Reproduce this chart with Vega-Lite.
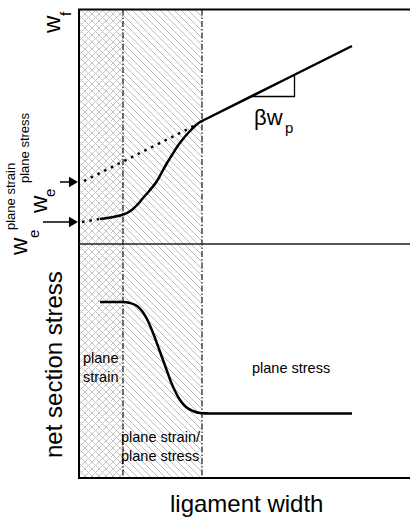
{
"$schema": "https://vega.github.io/schema/vega-lite/v6.json",
"width": 410, "height": 517,
"autosize": {"type": "none"},
"padding": 0,
"background": "white",
"config": {"view": {"stroke": null}, "font": "Liberation Sans"},
"datasets": {
"hatchA": [
{"x":123,"y":-69,"x2":202,"y2":10},{"x":123,"y":-62,"x2":202,"y2":17},{"x":123,"y":-55,"x2":202,"y2":24},{"x":123,"y":-48,"x2":202,"y2":31},{"x":123,"y":-41,"x2":202,"y2":38},{"x":123,"y":-34,"x2":202,"y2":45},{"x":123,"y":-27,"x2":202,"y2":52},{"x":123,"y":-20,"x2":202,"y2":59},{"x":123,"y":-13,"x2":202,"y2":66},{"x":123,"y":-6,"x2":202,"y2":73},
{"x":123,"y":1,"x2":202,"y2":80},{"x":123,"y":8,"x2":202,"y2":87},{"x":123,"y":15,"x2":202,"y2":94},{"x":123,"y":22,"x2":202,"y2":101},{"x":123,"y":29,"x2":202,"y2":108},{"x":123,"y":36,"x2":202,"y2":115},{"x":123,"y":43,"x2":202,"y2":122},{"x":123,"y":50,"x2":202,"y2":129},{"x":123,"y":57,"x2":202,"y2":136},{"x":123,"y":64,"x2":202,"y2":143},
{"x":123,"y":71,"x2":202,"y2":150},{"x":123,"y":78,"x2":202,"y2":157},{"x":123,"y":85,"x2":202,"y2":164},{"x":123,"y":92,"x2":202,"y2":171},{"x":123,"y":99,"x2":202,"y2":178},{"x":123,"y":106,"x2":202,"y2":185},{"x":123,"y":113,"x2":202,"y2":192},{"x":123,"y":120,"x2":202,"y2":199},{"x":123,"y":127,"x2":202,"y2":206},{"x":123,"y":134,"x2":202,"y2":213},
{"x":123,"y":141,"x2":202,"y2":220},{"x":123,"y":148,"x2":202,"y2":227},{"x":123,"y":155,"x2":202,"y2":234},{"x":123,"y":162,"x2":202,"y2":241},{"x":123,"y":169,"x2":202,"y2":248},{"x":123,"y":176,"x2":202,"y2":255},{"x":123,"y":183,"x2":202,"y2":262},{"x":123,"y":190,"x2":202,"y2":269},{"x":123,"y":197,"x2":202,"y2":276},{"x":123,"y":204,"x2":202,"y2":283},
{"x":123,"y":211,"x2":202,"y2":290},{"x":123,"y":218,"x2":202,"y2":297},{"x":123,"y":225,"x2":202,"y2":304},{"x":123,"y":232,"x2":202,"y2":311},{"x":123,"y":239,"x2":202,"y2":318},{"x":123,"y":246,"x2":202,"y2":325},{"x":123,"y":253,"x2":202,"y2":332},{"x":123,"y":260,"x2":202,"y2":339},{"x":123,"y":267,"x2":202,"y2":346},{"x":123,"y":274,"x2":202,"y2":353},
{"x":123,"y":281,"x2":202,"y2":360},{"x":123,"y":288,"x2":202,"y2":367},{"x":123,"y":295,"x2":202,"y2":374},{"x":123,"y":302,"x2":202,"y2":381},{"x":123,"y":309,"x2":202,"y2":388},{"x":123,"y":316,"x2":202,"y2":395},{"x":123,"y":323,"x2":202,"y2":402},{"x":123,"y":330,"x2":202,"y2":409},{"x":123,"y":337,"x2":202,"y2":416},{"x":123,"y":344,"x2":202,"y2":423},
{"x":123,"y":351,"x2":202,"y2":430},{"x":123,"y":358,"x2":202,"y2":437},{"x":123,"y":365,"x2":202,"y2":444},{"x":123,"y":372,"x2":202,"y2":451},{"x":123,"y":379,"x2":202,"y2":458},{"x":123,"y":386,"x2":202,"y2":465},{"x":123,"y":393,"x2":202,"y2":472},{"x":123,"y":400,"x2":202,"y2":479},{"x":123,"y":407,"x2":202,"y2":486},{"x":123,"y":414,"x2":202,"y2":493},
{"x":123,"y":421,"x2":202,"y2":500},{"x":123,"y":428,"x2":202,"y2":507},{"x":123,"y":435,"x2":202,"y2":514},{"x":123,"y":442,"x2":202,"y2":521},{"x":123,"y":449,"x2":202,"y2":528},{"x":123,"y":456,"x2":202,"y2":535},{"x":123,"y":463,"x2":202,"y2":542},{"x":123,"y":470,"x2":202,"y2":549},{"x":123,"y":477,"x2":202,"y2":556}
],
"hatchB": [
{"x":80,"y":-33,"x2":123,"y2":10},{"x":80,"y":-26,"x2":123,"y2":17},{"x":80,"y":-19,"x2":123,"y2":24},{"x":80,"y":-12,"x2":123,"y2":31},{"x":80,"y":-5,"x2":123,"y2":38},{"x":80,"y":2,"x2":123,"y2":45},{"x":80,"y":9,"x2":123,"y2":52},{"x":80,"y":16,"x2":123,"y2":59},{"x":80,"y":23,"x2":123,"y2":66},{"x":80,"y":30,"x2":123,"y2":73},
{"x":80,"y":37,"x2":123,"y2":80},{"x":80,"y":44,"x2":123,"y2":87},{"x":80,"y":51,"x2":123,"y2":94},{"x":80,"y":58,"x2":123,"y2":101},{"x":80,"y":65,"x2":123,"y2":108},{"x":80,"y":72,"x2":123,"y2":115},{"x":80,"y":79,"x2":123,"y2":122},{"x":80,"y":86,"x2":123,"y2":129},{"x":80,"y":93,"x2":123,"y2":136},{"x":80,"y":100,"x2":123,"y2":143},
{"x":80,"y":107,"x2":123,"y2":150},{"x":80,"y":114,"x2":123,"y2":157},{"x":80,"y":121,"x2":123,"y2":164},{"x":80,"y":128,"x2":123,"y2":171},{"x":80,"y":135,"x2":123,"y2":178},{"x":80,"y":142,"x2":123,"y2":185},{"x":80,"y":149,"x2":123,"y2":192},{"x":80,"y":156,"x2":123,"y2":199},{"x":80,"y":163,"x2":123,"y2":206},{"x":80,"y":170,"x2":123,"y2":213},
{"x":80,"y":177,"x2":123,"y2":220},{"x":80,"y":184,"x2":123,"y2":227},{"x":80,"y":191,"x2":123,"y2":234},{"x":80,"y":198,"x2":123,"y2":241},{"x":80,"y":205,"x2":123,"y2":248},{"x":80,"y":212,"x2":123,"y2":255},{"x":80,"y":219,"x2":123,"y2":262},{"x":80,"y":226,"x2":123,"y2":269},{"x":80,"y":233,"x2":123,"y2":276},{"x":80,"y":240,"x2":123,"y2":283},
{"x":80,"y":247,"x2":123,"y2":290},{"x":80,"y":254,"x2":123,"y2":297},{"x":80,"y":261,"x2":123,"y2":304},{"x":80,"y":268,"x2":123,"y2":311},{"x":80,"y":275,"x2":123,"y2":318},{"x":80,"y":282,"x2":123,"y2":325},{"x":80,"y":289,"x2":123,"y2":332},{"x":80,"y":296,"x2":123,"y2":339},{"x":80,"y":303,"x2":123,"y2":346},{"x":80,"y":310,"x2":123,"y2":353},
{"x":80,"y":317,"x2":123,"y2":360},{"x":80,"y":324,"x2":123,"y2":367},{"x":80,"y":331,"x2":123,"y2":374},{"x":80,"y":338,"x2":123,"y2":381},{"x":80,"y":345,"x2":123,"y2":388},{"x":80,"y":352,"x2":123,"y2":395},{"x":80,"y":359,"x2":123,"y2":402},{"x":80,"y":366,"x2":123,"y2":409},{"x":80,"y":373,"x2":123,"y2":416},{"x":80,"y":380,"x2":123,"y2":423},
{"x":80,"y":387,"x2":123,"y2":430},{"x":80,"y":394,"x2":123,"y2":437},{"x":80,"y":401,"x2":123,"y2":444},{"x":80,"y":408,"x2":123,"y2":451},{"x":80,"y":415,"x2":123,"y2":458},{"x":80,"y":422,"x2":123,"y2":465},{"x":80,"y":429,"x2":123,"y2":472},{"x":80,"y":436,"x2":123,"y2":479},{"x":80,"y":443,"x2":123,"y2":486},{"x":80,"y":450,"x2":123,"y2":493},
{"x":80,"y":457,"x2":123,"y2":500},{"x":80,"y":464,"x2":123,"y2":507},{"x":80,"y":471,"x2":123,"y2":514},{"x":80,"y":478,"x2":123,"y2":521}
],
"hatchC": [
{"x":80,"y":12,"x2":123,"y2":-31},{"x":80,"y":19,"x2":123,"y2":-24},{"x":80,"y":26,"x2":123,"y2":-17},{"x":80,"y":33,"x2":123,"y2":-10},{"x":80,"y":40,"x2":123,"y2":-3},{"x":80,"y":47,"x2":123,"y2":4},{"x":80,"y":54,"x2":123,"y2":11},{"x":80,"y":61,"x2":123,"y2":18},{"x":80,"y":68,"x2":123,"y2":25},{"x":80,"y":75,"x2":123,"y2":32},
{"x":80,"y":82,"x2":123,"y2":39},{"x":80,"y":89,"x2":123,"y2":46},{"x":80,"y":96,"x2":123,"y2":53},{"x":80,"y":103,"x2":123,"y2":60},{"x":80,"y":110,"x2":123,"y2":67},{"x":80,"y":117,"x2":123,"y2":74},{"x":80,"y":124,"x2":123,"y2":81},{"x":80,"y":131,"x2":123,"y2":88},{"x":80,"y":138,"x2":123,"y2":95},{"x":80,"y":145,"x2":123,"y2":102},
{"x":80,"y":152,"x2":123,"y2":109},{"x":80,"y":159,"x2":123,"y2":116},{"x":80,"y":166,"x2":123,"y2":123},{"x":80,"y":173,"x2":123,"y2":130},{"x":80,"y":180,"x2":123,"y2":137},{"x":80,"y":187,"x2":123,"y2":144},{"x":80,"y":194,"x2":123,"y2":151},{"x":80,"y":201,"x2":123,"y2":158},{"x":80,"y":208,"x2":123,"y2":165},{"x":80,"y":215,"x2":123,"y2":172},
{"x":80,"y":222,"x2":123,"y2":179},{"x":80,"y":229,"x2":123,"y2":186},{"x":80,"y":236,"x2":123,"y2":193},{"x":80,"y":243,"x2":123,"y2":200},{"x":80,"y":250,"x2":123,"y2":207},{"x":80,"y":257,"x2":123,"y2":214},{"x":80,"y":264,"x2":123,"y2":221},{"x":80,"y":271,"x2":123,"y2":228},{"x":80,"y":278,"x2":123,"y2":235},{"x":80,"y":285,"x2":123,"y2":242},
{"x":80,"y":292,"x2":123,"y2":249},{"x":80,"y":299,"x2":123,"y2":256},{"x":80,"y":306,"x2":123,"y2":263},{"x":80,"y":313,"x2":123,"y2":270},{"x":80,"y":320,"x2":123,"y2":277},{"x":80,"y":327,"x2":123,"y2":284},{"x":80,"y":334,"x2":123,"y2":291},{"x":80,"y":341,"x2":123,"y2":298},{"x":80,"y":348,"x2":123,"y2":305},{"x":80,"y":355,"x2":123,"y2":312},
{"x":80,"y":362,"x2":123,"y2":319},{"x":80,"y":369,"x2":123,"y2":326},{"x":80,"y":376,"x2":123,"y2":333},{"x":80,"y":383,"x2":123,"y2":340},{"x":80,"y":390,"x2":123,"y2":347},{"x":80,"y":397,"x2":123,"y2":354},{"x":80,"y":404,"x2":123,"y2":361},{"x":80,"y":411,"x2":123,"y2":368},{"x":80,"y":418,"x2":123,"y2":375},{"x":80,"y":425,"x2":123,"y2":382},
{"x":80,"y":432,"x2":123,"y2":389},{"x":80,"y":439,"x2":123,"y2":396},{"x":80,"y":446,"x2":123,"y2":403},{"x":80,"y":453,"x2":123,"y2":410},{"x":80,"y":460,"x2":123,"y2":417},{"x":80,"y":467,"x2":123,"y2":424},{"x":80,"y":474,"x2":123,"y2":431},{"x":80,"y":481,"x2":123,"y2":438},{"x":80,"y":488,"x2":123,"y2":445},{"x":80,"y":495,"x2":123,"y2":452},
{"x":80,"y":502,"x2":123,"y2":459},{"x":80,"y":509,"x2":123,"y2":466},{"x":80,"y":516,"x2":123,"y2":473},{"x":80,"y":523,"x2":123,"y2":480}
],
"mask": [{"x":80,"y":0,"x2":203,"y2":9},{"x":80,"y":478,"x2":203,"y2":530}],
"borders": [{"x":79,"y":9.5,"x2":79,"y2":478},{"x":78,"y":9.5,"x2":410,"y2":9.5},{"x":78,"y":478,"x2":410,"y2":478}],
"divider": [{"x":79,"y":244,"x2":410,"y2":244}],
"dashdot": [{"x":123,"y":9.5,"x2":123,"y2":478},{"x":202,"y":9.5,"x2":202,"y2":478}],
"slope": [{"x":251,"y":96.5,"x2":295,"y2":96.5},{"x":294.5,"y":96.5,"x2":294.5,"y2":74}],
"shafts": [{"x":60,"y":182,"x2":72,"y2":182},{"x":43,"y":222,"x2":72,"y2":222}],
"heads": [{"x":73.5,"y":182},{"x":73.5,"y":222}],
"topCurve": [{"x":100,"y":219},{"x":110,"y":217.5},{"x":120,"y":215.5},{"x":127,"y":213},{"x":133,"y":209},{"x":138,"y":204},{"x":143,"y":198},{"x":150,"y":190},{"x":157,"y":181},{"x":162,"y":172},{"x":167,"y":163},{"x":172,"y":155},{"x":177,"y":147},{"x":183,"y":139},{"x":190,"y":131},{"x":195,"y":126},{"x":200,"y":122},{"x":205,"y":119.5},{"x":210,"y":117},{"x":352,"y":46}],
"dotStress": [{"x":84,"y":181},{"x":196,"y":125}],
"dotStrain": [{"x":82,"y":222},{"x":100,"y":219}],
"lowCurve": [{"x":100,"y":302},{"x":123,"y":302},{"x":130,"y":303},{"x":137,"y":306},{"x":142,"y":311},{"x":147,"y":319},{"x":151,"y":328},{"x":155,"y":338},{"x":159,"y":349},{"x":163,"y":360},{"x":167,"y":371},{"x":171,"y":382},{"x":175,"y":391},{"x":180,"y":400},{"x":186,"y":407},{"x":193,"y":411},{"x":200,"y":413},{"x":210,"y":413.5},{"x":352,"y":413.5}],
"bigRot": [{"x":62,"y":458,"t":"net section stress"},{"x":60,"y":33,"t":"w"},{"x":27,"y":255,"t":"w"},{"x":47,"y":213,"t":"w"}],
"subRot": [{"x":71,"y":16,"t":"f"},{"x":39,"y":238,"t":"e"},{"x":55,"y":197,"t":"e"}],
"supRot": [{"x":15,"y":230,"t":"plane strain"},{"x":29,"y":183,"t":"plane stress"}],
"regionText": [{"x":83,"y":363,"t":"plane"},{"x":83,"y":382,"t":"strain"},{"x":121,"y":442,"t":"plane strain/"},{"x":121,"y":461,"t":"plane stress"},{"x":252,"y":373,"t":"plane stress"}],
"xTitle": [{"x":170,"y":512,"t":"ligament width"}],
"beta": [{"x":254,"y":125,"t":"βw"}],
"betaSub": [{"x":285,"y":133,"t":"p"}]
},
"encoding": {
"x": {"field": "x", "type": "quantitative", "scale": {"domain": [0, 410], "nice": false, "zero": false}, "axis": null},
"y": {"field": "y", "type": "quantitative", "scale": {"domain": [0, 517], "reverse": true, "nice": false, "zero": false}, "axis": null}
},
"layer": [
{"data": {"name": "hatchA"}, "mark": {"type": "rule", "color": "#bdbdbd", "strokeWidth": 1}, "encoding": {"x2": {"field": "x2"}, "y2": {"field": "y2"}}},
{"data": {"name": "hatchB"}, "mark": {"type": "rule", "color": "#c4c4c4", "strokeWidth": 1}, "encoding": {"x2": {"field": "x2"}, "y2": {"field": "y2"}}},
{"data": {"name": "hatchC"}, "mark": {"type": "rule", "color": "#c4c4c4", "strokeWidth": 1}, "encoding": {"x2": {"field": "x2"}, "y2": {"field": "y2"}}},
{"data": {"name": "mask"}, "mark": {"type": "rect", "color": "white"}, "encoding": {"x2": {"field": "x2"}, "y2": {"field": "y2"}}},
{"data": {"name": "dashdot"}, "mark": {"type": "rule", "color": "black", "strokeWidth": 1.1, "strokeDash": [6, 2, 1.5, 2]}, "encoding": {"x2": {"field": "x2"}, "y2": {"field": "y2"}}},
{"data": {"name": "borders"}, "mark": {"type": "rule", "color": "black", "strokeWidth": 2}, "encoding": {"x2": {"field": "x2"}, "y2": {"field": "y2"}}},
{"data": {"name": "divider"}, "mark": {"type": "rule", "color": "#222", "strokeWidth": 1.3}, "encoding": {"x2": {"field": "x2"}, "y2": {"field": "y2"}}},
{"data": {"name": "slope"}, "mark": {"type": "rule", "color": "black", "strokeWidth": 1.3}, "encoding": {"x2": {"field": "x2"}, "y2": {"field": "y2"}}},
{"data": {"name": "shafts"}, "mark": {"type": "rule", "color": "black", "strokeWidth": 1.5}, "encoding": {"x2": {"field": "x2"}, "y2": {"field": "y2"}}},
{"data": {"name": "heads"}, "mark": {"type": "point", "shape": "triangle-right", "filled": true, "color": "black", "opacity": 1, "size": 110}},
{"data": {"name": "dotStress"}, "mark": {"type": "line", "color": "black", "strokeWidth": 2.5, "strokeDash": [2.5, 5]}, "encoding": {}},
{"data": {"name": "dotStrain"}, "mark": {"type": "line", "color": "black", "strokeWidth": 2.5, "strokeDash": [2.5, 5]}, "encoding": {}},
{"data": {"name": "topCurve"}, "mark": {"type": "line", "color": "black", "strokeWidth": 2.5, "interpolate": "monotone"}, "encoding": {}},
{"data": {"name": "lowCurve"}, "mark": {"type": "line", "color": "black", "strokeWidth": 2.5, "interpolate": "monotone"}, "encoding": {}},
{"data": {"name": "bigRot"}, "mark": {"type": "text", "angle": -90, "align": "left", "baseline": "alphabetic", "fontSize": 24, "color": "black"}, "encoding": {"text": {"field": "t"}}},
{"data": {"name": "subRot"}, "mark": {"type": "text", "angle": -90, "align": "left", "baseline": "alphabetic", "fontSize": 15, "color": "black"}, "encoding": {"text": {"field": "t"}}},
{"data": {"name": "supRot"}, "mark": {"type": "text", "angle": -90, "align": "left", "baseline": "alphabetic", "fontSize": 13, "color": "black"}, "encoding": {"text": {"field": "t"}}},
{"data": {"name": "regionText"}, "mark": {"type": "text", "align": "left", "baseline": "alphabetic", "fontSize": 14.5, "color": "black"}, "encoding": {"text": {"field": "t"}}},
{"data": {"name": "xTitle"}, "mark": {"type": "text", "align": "left", "baseline": "alphabetic", "fontSize": 24, "color": "black"}, "encoding": {"text": {"field": "t"}}},
{"data": {"name": "beta"}, "mark": {"type": "text", "align": "left", "baseline": "alphabetic", "fontSize": 22, "color": "black"}, "encoding": {"text": {"field": "t"}}},
{"data": {"name": "betaSub"}, "mark": {"type": "text", "align": "left", "baseline": "alphabetic", "fontSize": 15, "color": "black"}, "encoding": {"text": {"field": "t"}}}
]
}
